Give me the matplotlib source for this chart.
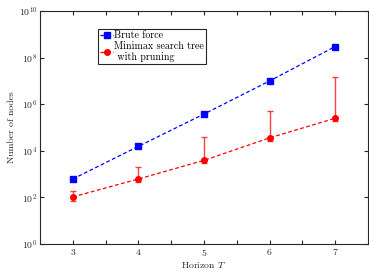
import matplotlib
matplotlib.use("Agg")
import matplotlib.pyplot as plt
import numpy as np

plt.rcParams['font.family'] = 'cmr10'
plt.rcParams['mathtext.fontset'] = 'cm'
plt.rcParams['axes.formatter.use_mathtext'] = True
plt.rcParams['axes.unicode_minus'] = False

horizon = [3, 4, 5, 6, 7]
brute_force = [6.2e2, 1.56e4, 3.8e5, 1.0e7, 3.0e8]
minimax = [1.05e2, 6.2e2, 3.9e3, 3.6e4, 2.5e5]
minimax_err_low = [70, 4.5e2, 2.9e3, 2.7e4, 1.9e5]
minimax_err_high = [1.9e2, 2.0e3, 3.9e4, 5.3e5, 1.5e7]

fig = plt.figure(figsize=(3.69, 2.71), dpi=100)
ax = fig.add_axes([0.1084, 0.0996, 0.8886, 0.8594])

ax.plot(horizon, brute_force, linestyle='--', color='#0000ff', marker='s',
        markersize=4.5, linewidth=0.9, dashes=(3, 2), label='Brute force', zorder=3)

yerr = [np.array(minimax) - np.array(minimax_err_low),
        np.array(minimax_err_high) - np.array(minimax)]
ax.errorbar(horizon, minimax, yerr=yerr, fmt='none', ecolor='#ff2020',
            elinewidth=1.0, capsize=2.5, capthick=1.0, alpha=0.85, zorder=2)
ax.plot(horizon, minimax, linestyle='--', color='#ff0000', marker='o',
        markersize=4.0, linewidth=0.9, dashes=(3, 2),
        label='Minimax search tree\n with pruning', zorder=3)

ax.set_yscale('log')
ax.set_ylim(1e0, 1e10)
ax.set_xlim(2.5, 7.5)
ax.set_yticks([1e0, 1e2, 1e4, 1e6, 1e8, 1e10])
ax.yaxis.set_minor_locator(matplotlib.ticker.NullLocator())
ax.set_xticks(horizon)
ax.set_xticks([3.5, 4.5, 5.5, 6.5], minor=True)
ax.tick_params(which='both', direction='in', top=True, right=True,
               labelsize=7, length=3, width=0.8, colors='#262626', labelcolor='#262626')
ax.tick_params(axis='x', pad=2.5)
ax.tick_params(axis='y', pad=2)
for s in ax.spines.values():
    s.set_linewidth(0.8)
    s.set_color('#262626')

ax.set_xlabel('Horizon $T$', fontsize=7, color='#262626', labelpad=1)
ax.set_ylabel('Number of nodes', fontsize=7, color='#262626', labelpad=2)

leg = ax.legend(loc='upper left', bbox_to_anchor=(0.177, 0.925), fontsize=7.2,
                handlelength=1.3, handletextpad=0.1, borderpad=0.2,
                labelspacing=0.1, fancybox=False, framealpha=1,
                edgecolor='#262626', borderaxespad=0)
leg.get_frame().set_linewidth(0.8)

fig.savefig('out.png', dpi=100)
